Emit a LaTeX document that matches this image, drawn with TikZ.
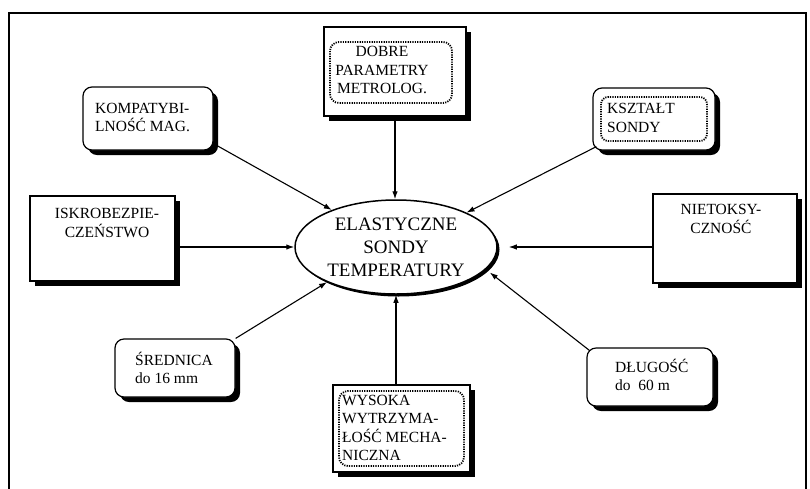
\documentclass[tikz,border=0pt]{standalone}
\usepackage{fontspec}
\setmainfont{Liberation Serif}
\usetikzlibrary{shapes.geometric,shadows,arrows.meta,calc}
\begin{document}
\begin{tikzpicture}[x=1pt,y=-1pt,
  conn/.style={line width=1.1pt,-{Latex[length=8pt,width=5.5pt]}},
  sqbox/.style={draw,line width=1.2pt,fill=white,rectangle,inner sep=0pt,
    drop shadow={shadow xshift=5pt,shadow yshift=-5pt,fill=black,opacity=1}},
  rbox/.style={draw,line width=1.2pt,fill=white,rectangle,rounded corners=9pt,inner sep=0pt,
    drop shadow={shadow xshift=5pt,shadow yshift=-5pt,fill=black,opacity=1}},
  noisy/.style={draw,line width=1.8pt,dash pattern=on 1.2pt off 1.2pt,rounded corners=9pt},
  boxtext/.style={inner sep=0pt,font=\fontsize{15.5}{18.5}\selectfont},
  eltext/.style={font=\fontsize{19}{23}\selectfont}]
\useasboundingbox (0,0) rectangle (810,488);
\fill[white] (0,0) rectangle (810,488);
% outer frame
\draw[line width=2pt] (9,500) -- (9,13) -- (806,13) -- (806,500);

% central ellipse
\node[ellipse,draw,line width=1.5pt,fill=white,minimum width=202pt,minimum height=94pt,inner sep=0pt,
  drop shadow={shadow xshift=2.5pt,shadow yshift=-2.5pt,fill=black,opacity=1},
  align=center,eltext] (el) at (396,247) {ELASTYCZNE\\SONDY\\TEMPERATURY};

% boxes
\node[sqbox,minimum width=142pt,minimum height=89pt] (dob) at (395,71.5) {};
\draw[noisy] (330,42) rectangle (452,103);
\node[boxtext,align=center] (dobt) at (382,70) {DOBRE\\PARAMETRY\\METROLOG.};

\node[rbox,minimum width=130pt,minimum height=63pt] (komp) at (148,118.5) {};
\node[boxtext,align=left,anchor=west] (kompt) at (95,117.5) {KOMPATYBI-\\LNOŚĆ MAG.};

\node[rbox,minimum width=122pt,minimum height=62pt] (ksz) at (654,119) {};
\draw[noisy,rounded corners=7pt] (601,97) rectangle (707,141);
\node[boxtext,align=left,anchor=west] (kszt) at (607,118) {KSZTAŁT\\SONDY};

\node[sqbox,minimum width=145pt,minimum height=85pt] (isk) at (102.5,238.5) {};
\node[boxtext,align=center] (iskt) at (107,223) {ISKROBEZPIE-\\CZEŃSTWO};

\node[sqbox,minimum width=144pt,minimum height=89pt] (nie) at (725,238.5) {};
\node[boxtext,align=center] (niet) at (721,219) {NIETOKSY-\\CZNOŚĆ};

\node[rbox,minimum width=120pt,minimum height=58pt] (sre) at (175,368) {};
\node[boxtext,align=left,anchor=west] (sret) at (135,368) {ŚREDNICA\\do 16 mm};

\node[rbox,minimum width=126pt,minimum height=58pt] (dlu) at (650,377) {};
\node[boxtext,align=left,anchor=west] (dlut) at (615,375) {DŁUGOŚĆ\\do\ \ 60 m};

\node[sqbox,minimum width=137pt,minimum height=87pt] (wys) at (401.5,428.5) {};
\draw[noisy] (339,391) rectangle (464,466);
\node[boxtext,align=left,anchor=west] (wyst) at (342,428) {WYSOKA\\WYTRZYMA-\\ŁOŚĆ MECHA-\\NICZNA};

% connectors
\draw[conn] (dob.south) -- (dob.south |- el.north);
\draw[conn] (komp.-21) -- (el.150);
\draw[conn] ($(ksz.south west)+(4,-4)$) -- (el.26);
\draw[conn] (isk.east |- el.west) -- (el.west);
\draw[conn,shorten >=11pt] (nie.west |- el.east) -- (el.east);
\draw[conn] (sre.north east) -- (el.207);
\draw[conn,shorten >=5pt] ($(dlu.north west)+(3,3)$) -- (el.-14);
\draw[conn] (el.south |- wys.north) -- (el.south);
\end{tikzpicture}
\end{document}
